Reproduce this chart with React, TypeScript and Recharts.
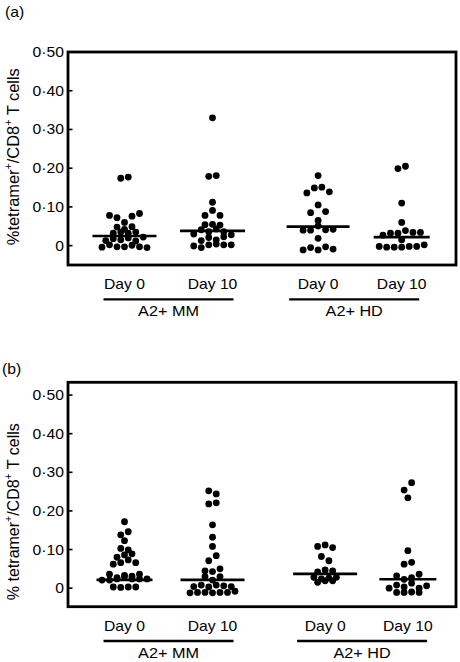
import React from 'react';
import { ScatterChart, Scatter, XAxis, YAxis, ReferenceArea } from 'recharts';

// ---------- categories / ticks ----------
const dayLabels = ['Day 0', 'Day 10', 'Day 0', 'Day 10'];
const groupLabels = ['A2+ MM', 'A2+ HD'];
const yTicks = [0, 0.1, 0.2, 0.3, 0.4, 0.5];

// category slot positions on the x axis (Prism-style column layout)
const aSlots = [1, 2, 3.2, 4.15];
const bSlots = [1, 2, 3.28, 4.22];
const aGroupTicks = [1.5, 3.61];
const bGroupTicks = [1.5, 3.7];

// ---------- panel (a) values: rows of dots, top to bottom, left to right ----------
const aMMDay0 = [
  [0.174, 0.177],
  [0.078, 0.072, 0.06, 0.076, 0.083],
  [0.048, 0.042, 0.049],
  [0.032, 0.035, 0.032, 0.035],
  [0.013, 0.018, 0.015, 0.02, 0.012, 0.022],
  [-0.004, 0.002, -0.003, -0.003, 0.001, -0.003, -0.005],
];
const aMMDay10 = [
  [0.33],
  [0.179, 0.181],
  [0.112],
  [0.078, 0.091, 0.078],
  [0.054, 0.055, 0.053],
  [0.041, 0.036, 0.043, 0.036],
  [0.03, 0.013, 0.021, 0.015, 0.023, 0.028],
  [-0.001, -0.005, 0.002, 0.004, 0.002, 0.002],
];
const aHDDay0 = [
  [0.181],
  [0.136, 0.149, 0.151, 0.139],
  [0.105],
  [0.085, 0.065, 0.088],
  [0.04, 0.04, 0.051, 0.041, 0.042],
  [0.019],
  [-0.011, -0.005, -0.011, -0.003, -0.009],
];
const aHDDay10 = [
  [0.199, 0.205],
  [0.11],
  [0.06],
  [0.027, 0.032, 0.032, 0.039, 0.034, 0.034],
  [0.015],
  [-0.002, -0.004, -0.004, -0.004, -0.002, -0.002, 0.002],
];
const aMedians = [0.025, 0.038, 0.049, 0.022];

// ---------- panel (b) values ----------
const bMMDay0 = [
  [0.172],
  [0.138, 0.146],
  [0.123],
  [0.103, 0.099],
  [0.08, 0.086, 0.089],
  [0.062, 0.066, 0.073, 0.066],
  [0.036, 0.027, 0.033, 0.031, 0.036],
  [0.021, 0.021, 0.024, 0.03, 0.024, 0.024, 0.024],
  [0.003, 0.002, 0.003, 0.003],
];
const bMMDay10 = [
  [0.252, 0.244],
  [0.218, 0.221],
  [0.164],
  [0.132],
  [0.108],
  [0.071, 0.084],
  [0.045, 0.043, 0.05],
  [0.03, 0.021, 0.03],
  [0.004, 0.008, 0.003, 0.008, 0.006, 0.004],
  [-0.012, -0.011, -0.011, -0.012, -0.011, -0.011, -0.008],
];
const bHDDay0 = [
  [0.108, 0.112, 0.105],
  [0.082, 0.071],
  [0.042, 0.047, 0.045],
  [0.028, 0.024, 0.026, 0.028],
  [0.015, 0.019, 0.019],
];
const bHDDay10 = [
  [0.254, 0.273],
  [0.234],
  [0.097],
  [0.062, 0.067],
  [0.032, 0.023, 0.027, 0.036],
  [0.0, 0.008, 0.003, 0.013, 0.0, 0.006],
  [-0.011, -0.011, -0.01, -0.011],
];
const bMedians = [0.0215, 0.0215, 0.037, 0.023];

// ---------- layout / style constants ----------
const FONT = '"Liberation Sans", Arial, Helvetica, sans-serif';
const SX = 1.12;
const X_DOMAIN: [number, number] = [0.358, 4.767];
const PX_PER_X = 88;
const DOT_STEP = 7.5 / PX_PER_X;
const aBarWidths = [64, 65, 63, 56];
const bBarWidths = [56, 64, 64, 57];

function SText({ x, y, size, anchor = 'start', children }: any) {
  return (
    <text
      transform={`translate(${x},${y}) scale(${SX},1)`}
      textAnchor={anchor}
      fontFamily={FONT}
      fontSize={size}
      fill="#000"
    >
      {children}
    </text>
  );
}

function layoutRows(rows: number[][], slot: number) {
  return rows.flatMap((row) =>
    row.map((v, i) => ({ x: slot + (i - (row.length - 1) / 2) * DOT_STEP, y: v }))
  );
}

function DayTick(props: any) {
  const { x, y, index } = props;
  return (
    <SText x={x} y={y + 24.3} size={14} anchor="middle">
      {dayLabels[index]}
    </SText>
  );
}

function GroupTick(props: any) {
  const { x, y, index } = props;
  return (
    <g>
      <line x1={x - 65} x2={x + 65} y1={y + 8.3} y2={y + 8.3} stroke="#000" strokeWidth={2.3} />
      <SText x={x} y={y + 24.8} size={14.5} anchor="middle">
        {groupLabels[index]}
      </SText>
    </g>
  );
}

function YTick(props: any) {
  const { x, y, payload } = props;
  const v = payload.value as number;
  const label = v === 0 ? '0' : v.toFixed(2).replace('.', '\u00B7');
  return (
    <g>
      <line x1={x} x2={x + 4.5} y1={y} y2={y} stroke="#000" strokeWidth={1.6} />
      <SText x={x - 4} y={y + 5} size={14} anchor="end">
        {label}
      </SText>
    </g>
  );
}

function YTitle(props: any) {
  const { titleY, gap } = props;
  return (
    <text
      transform={`translate(18.5,${titleY}) scale(1.1,1) rotate(-90)`}
      textAnchor="middle"
      fontFamily={FONT}
      fontSize={15.5}
      fill="#000"
      textLength={177}
      lengthAdjust="spacingAndGlyphs"
    >
      {`%${gap}tetramer`}
      <tspan dy={-6} fontSize={10}>+</tspan>
      <tspan dy={6}>/CD8</tspan>
      <tspan dy={-6} fontSize={10}>+</tspan>
      <tspan dy={6}> T cells</tspan>
    </text>
  );
}

const Dot = (p: any) => <circle cx={p.cx} cy={p.cy} r={3.4} fill="#000" />;
const Nothing = () => <g />;
const Frame = (p: any) => (
  <rect x={p.x} y={p.y} width={p.width} height={p.height} fill="none" stroke="#000" strokeWidth={2.8} />
);

function Panel({ groups, medians, slots, groupTicks, barWidths, yDomain, margin, height, titleY, gap }: any) {
  const points = groups.flatMap((g: number[][], i: number) => layoutRows(g, slots[i]));
  const medianPts = medians.map((m: number, i: number) => ({ x: slots[i], y: m, g: i }));
  const groupPts = groupTicks.map((t: number) => ({ x: t, y: 0 }));
  const MedianBar = (p: any) => {
    const w = barWidths[p.payload.g];
    return <line x1={p.cx - w / 2} x2={p.cx + w / 2} y1={p.cy} y2={p.cy} stroke="#000" strokeWidth={2.6} />;
  };
  return (
    <ScatterChart width={460} height={height} margin={margin}>
      <XAxis
        xAxisId="day"
        type="number"
        dataKey="x"
        domain={X_DOMAIN}
        ticks={slots}
        interval={0}
        tick={<DayTick />}
        tickLine={false}
        axisLine={false}
        tickSize={0}
        tickMargin={0}
        height={26}
        allowDataOverflow
      />
      <XAxis
        xAxisId="grp"
        type="number"
        dataKey="x"
        domain={X_DOMAIN}
        ticks={groupTicks}
        interval={0}
        tick={<GroupTick />}
        tickLine={false}
        axisLine={false}
        tickSize={0}
        tickMargin={0}
        height={24}
        allowDataOverflow
      />
      <YAxis
        type="number"
        dataKey="y"
        domain={yDomain}
        ticks={yTicks}
        interval={0}
        tick={<YTick />}
        tickLine={false}
        axisLine={false}
        tickSize={0}
        tickMargin={0}
        width={50}
        allowDataOverflow
        label={<YTitle titleY={titleY} gap={gap} />}
      />
      <ReferenceArea
        xAxisId="day"
        x1={X_DOMAIN[0]}
        x2={X_DOMAIN[1]}
        y1={yDomain[0]}
        y2={yDomain[1]}
        ifOverflow="visible"
        shape={Frame}
      />
      <Scatter xAxisId="grp" data={groupPts} shape={Nothing} isAnimationActive={false} />
      <Scatter xAxisId="day" data={points} shape={Dot} isAnimationActive={false} />
      <Scatter xAxisId="day" data={medianPts} shape={MedianBar} isAnimationActive={false} />
    </ScatterChart>
  );
}

export default function App() {
  return (
    <div style={{ position: 'absolute', left: 0, top: 0, width: 460, height: 662, background: '#fff' }}>
      <div style={{ position: 'absolute', left: 0, top: 0 }}>
        <Panel
          groups={[aMMDay0, aMMDay10, aHDDay0, aHDDay10]}
          medians={aMedians}
          slots={aSlots}
          groupTicks={aGroupTicks}
          barWidths={aBarWidths}
          yDomain={[-0.05, 0.5]}
          margin={{ top: 52, right: 4, left: 18, bottom: 15 }}
          height={330}
          titleY={156.7}
          gap=""
        />
      </div>
      <div style={{ position: 'absolute', left: 0, top: 330 }}>
        <Panel
          groups={[bMMDay0, bMMDay10, bHDDay0, bHDDay10]}
          medians={bMedians}
          slots={bSlots}
          groupTicks={bGroupTicks}
          barWidths={bBarWidths}
          yDomain={[-0.048, 0.533]}
          margin={{ top: 52.3, right: 4, left: 18, bottom: 5.3 }}
          height={332}
          titleY={181.7}
          gap=" "
        />
      </div>
      <svg style={{ position: 'absolute', left: 0, top: 0, pointerEvents: 'none' }} width={460} height={662}>
        <SText x={5} y={17} size={14}>(a)</SText>
        <SText x={2} y={373.8} size={14}>(b)</SText>
      </svg>
    </div>
  );
}
